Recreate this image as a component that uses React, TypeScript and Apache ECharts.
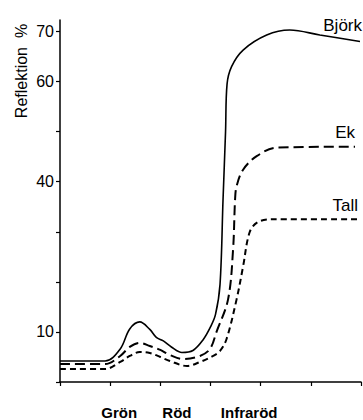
import React, { useEffect, useRef } from "react";
import * as echarts from "echarts";

// Wavelength (nm) and reflectance (%)
const bjorkNm = [400, 490, 520, 539, 559, 579, 592, 606, 622, 643, 665, 685, 700, 710, 719, 725, 730, 733, 742, 765, 812, 858, 918, 998];
const bjorkValues = [4.2, 4.2, 6.6, 10.6, 12.0, 10.5, 8.9, 8.2, 7.0, 5.9, 6.3, 8.4, 11.0, 13.5, 19.5, 36.5, 50, 59.5, 63.0, 66.3, 69.3, 70.3, 69.3, 68.0];

const ekNm = [400, 490, 520, 539, 559, 579, 600, 619, 645, 679, 699, 712, 735, 745, 749, 752, 765, 792, 832, 988];
const ekValues = [3.6, 3.6, 5.2, 7.0, 7.8, 7.2, 6.4, 5.4, 4.6, 5.2, 6.6, 10.0, 16.5, 26.5, 36.5, 39.1, 42.4, 45.1, 46.8, 47.0];

const tallNm = [400, 490, 520, 539, 559, 579, 600, 619, 653, 679, 705, 719, 732, 752, 765, 778, 794, 824, 994];
const tallValues = [2.6, 2.6, 4.0, 5.2, 6.0, 5.8, 5.0, 4.2, 3.2, 4.0, 5.2, 6.2, 8.6, 16.5, 23.1, 29.9, 31.9, 32.5, 32.5];

const yTicks = [0, 10, 20, 30, 40, 50, 60, 70];
const yLabels = [10, 40, 60, 70];
const xTicks = [400, 500, 600, 700, 800, 900, 1000];
const bandPositions = [518, 633, 777];
const bandNames = ["Grön", "Röd", "Infraröd"];

const FONT = "Liberation Sans, Arial, Helvetica, sans-serif";

function zip(xs: number[], ys: number[]) {
  return xs.map((x, i) => [x, ys[i]]);
}

export default function App() {
  const ref = useRef<HTMLDivElement>(null);

  useEffect(() => {
    if (!ref.current) return;
    const chart = echarts.init(ref.current, null, { renderer: "svg" });
    const lineBase = {
      type: "line",
      showSymbol: false,
      symbol: "none",
      smooth: 0.35,
      silent: true,
    };
    const endLabel = (name: string, offset: number[]) => ({
      show: true,
      formatter: name,
      align: "right",
      verticalAlign: "bottom",
      distance: 0,
      offset,
      color: "#000",
      fontSize: 17,
      fontFamily: FONT,
    });
    chart.setOption({
      animation: false,
      backgroundColor: "#fff",
      grid: { left: 60, right: 2, top: 20, bottom: 37, containLabel: false },
      xAxis: {
        type: "value",
        min: 400,
        max: 1000,
        axisLine: { show: true, lineStyle: { color: "#000", width: 1.5 } },
        axisTick: {
          show: true,
          length: 4,
          customValues: xTicks,
          lineStyle: { color: "#000", width: 1.2 },
        },
        splitLine: { show: false },
        axisLabel: {
          show: true,
          customValues: bandPositions,
          formatter: (v: number) => {
            const i = bandPositions.indexOf(v);
            return i >= 0 ? bandNames[i] : "";
          },
          margin: 23,
          color: "#000",
          fontSize: 15,
          fontWeight: "bold",
          fontFamily: FONT,
        },
      },
      yAxis: {
        type: "value",
        min: 0,
        max: 72.3,
        axisLine: { show: true, lineStyle: { color: "#000", width: 1.5 } },
        axisTick: {
          show: true,
          length: 4,
          customValues: yTicks,
          lineStyle: { color: "#000", width: 1.2 },
        },
        splitLine: { show: false },
        axisLabel: {
          show: true,
          customValues: yLabels,
          margin: 6,
          color: "#000",
          fontSize: 16,
          fontFamily: FONT,
        },
      },
      graphic: [
        {
          type: "text",
          x: 21,
          y: 71,
          rotation: Math.PI / 2,
          style: {
            text: "Reflektion  %",
            fill: "#000",
            fontSize: 16,
            fontFamily: FONT,
            align: "center",
            verticalAlign: "middle",
          },
        },
      ],
      series: [
        {
          ...lineBase,
          name: "Björk",
          data: zip(bjorkNm, bjorkValues),
          lineStyle: { color: "#000", width: 1.6, type: "solid" },
          endLabel: endLabel("Björk", [2, -8]),
        },
        {
          ...lineBase,
          name: "Ek",
          data: zip(ekNm, ekValues),
          lineStyle: { color: "#000", width: 2, type: [10, 5] },
          endLabel: endLabel("Ek", [0, -6]),
        },
        {
          ...lineBase,
          name: "Tall",
          data: zip(tallNm, tallValues),
          lineStyle: { color: "#000", width: 2, type: [6, 4] },
          endLabel: endLabel("Tall", [0, -5]),
        },
      ],
    });
    return () => chart.dispose();
  }, []);

  return (
    <div
      ref={ref}
      style={{ position: "absolute", left: 0, top: 0, width: 363, height: 420, background: "#fff" }}
    />
  );
}
